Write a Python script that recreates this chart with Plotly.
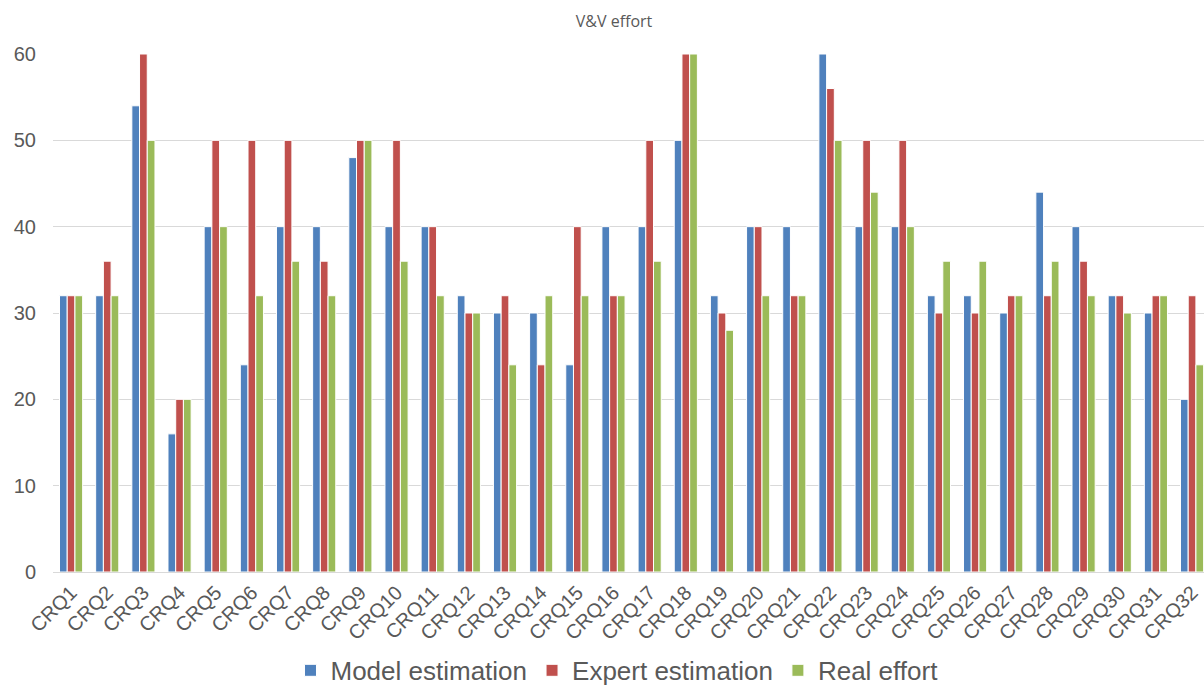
import plotly.graph_objects as go

categories = [f"CRQ{i}" for i in range(1, 33)]

model_estimation = [32, 32, 54, 16, 40, 24, 40, 40, 48, 40, 40, 32, 30, 30, 24, 40,
                    40, 50, 32, 40, 40, 60, 40, 40, 32, 32, 30, 44, 40, 32, 30, 20]
expert_estimation = [32, 36, 60, 20, 50, 50, 50, 36, 50, 50, 40, 30, 32, 24, 40, 32,
                     50, 60, 30, 40, 32, 56, 50, 50, 30, 30, 32, 32, 36, 32, 32, 32]
real_effort = [32, 32, 50, 20, 40, 32, 36, 32, 50, 36, 32, 30, 24, 32, 32, 32,
               36, 60, 28, 32, 32, 50, 44, 40, 36, 36, 32, 36, 32, 30, 32, 24]

y_ticks = [0, 10, 20, 30, 40, 50, 60]

series = [
    ("Model estimation", model_estimation, "#4F81BD"),
    ("Expert estimation", expert_estimation, "#C0504D"),
    ("Real effort", real_effort, "#9BBB59"),
]

fig = go.Figure()
for name, values, color in series:
    fig.add_trace(go.Bar(
        x=categories, y=values, name=name,
        marker=dict(color=color, line=dict(color="white", width=1)),
    ))

fig.update_layout(
    width=1204, height=689,
    margin=dict(l=53, r=0, t=54, b=117, autoexpand=False),
    paper_bgcolor="white", plot_bgcolor="white",
    barmode="group", bargap=0.36, bargroupgap=0.0,
    title=dict(text="V&V effort", x=0.51, xref="container", xanchor="center",
               y=1 - 21 / 689, yref="container", yanchor="middle",
               font=dict(family="Open Sans", size=16, color="#595959")),
    font=dict(family="Liberation Sans, Arial", color="#595959"),
    legend=dict(orientation="h", x=0.49, xanchor="center", y=-0.19, yanchor="middle",
                font=dict(size=26, color="#595959"), itemwidth=30,
                traceorder="normal"),
    showlegend=True,
)
fig.update_xaxes(
    type="category", range=[-0.5, 31.33], tickangle=-45, automargin=False,
    tickfont=dict(size=20, color="#595959"), showgrid=False,
    showline=True, linecolor="#D9D9D9", linewidth=1, ticks="",
)
fig.update_yaxes(
    range=[0, 60], tickvals=y_ticks, tickfont=dict(size=20, color="#595959"),
    showgrid=True, gridcolor="#D9D9D9", gridwidth=1, zeroline=False, automargin=False,
    showline=False, ticks="", ticklabelstandoff=16,
)

fig.write_html("out.html")
